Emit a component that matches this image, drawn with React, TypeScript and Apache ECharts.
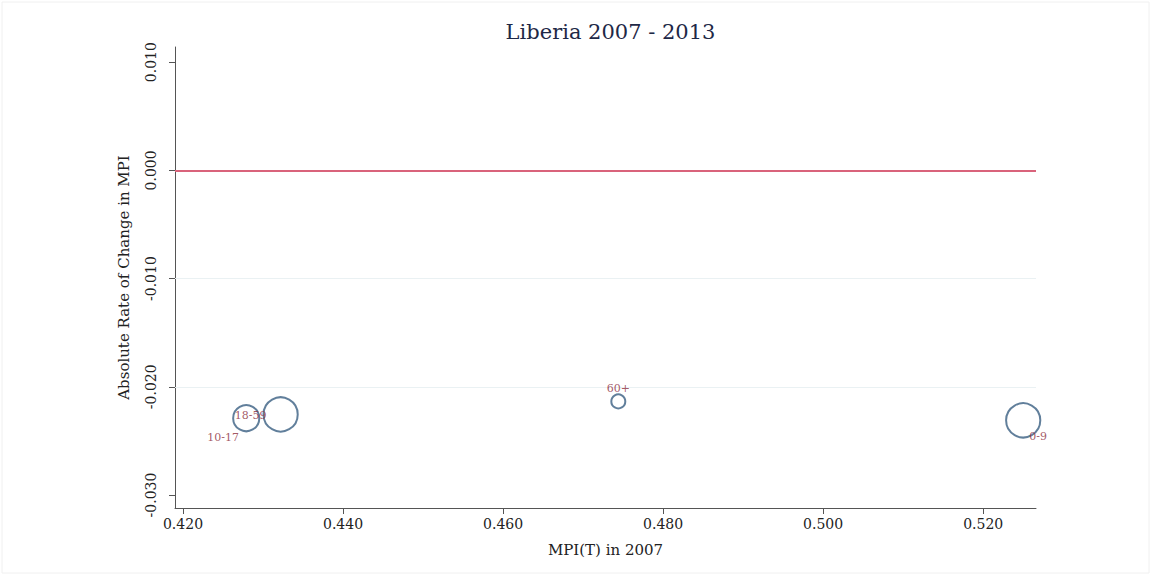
import React, { useEffect, useRef } from "react";
import * as echarts from "echarts";

const groups = ["10-17", "18-59", "60+", "0-9"];
const mpi2007 = [0.4279, 0.4322, 0.4744, 0.5250];
const absChange = [-0.0229, -0.02255, -0.02135, -0.0231];
const popShare = [0.21, 0.36, 0.06, 0.36];
const xTicks = [0.42, 0.44, 0.46, 0.48, 0.5, 0.52];
const yTicks = [-0.03, -0.02, -0.01, 0.0, 0.01];
const labelOffsets = [[-23, 19], [-30, 1], [0, -13], [15, 16]];

const SERIF = "'DejaVu Serif', 'Liberation Serif', serif";

export default function App() {
  const ref = useRef<HTMLDivElement>(null);
  useEffect(() => {
    const chart = echarts.init(ref.current!, null, { renderer: "svg" });
    const data = groups.map((g, i) => ({
      name: g,
      value: [mpi2007[i], absChange[i], popShare[i]],
      label: { offset: labelOffsets[i] },
    }));
    const interior = yTicks.slice(1, yTicks.length - 1);
    chart.setOption({
      animation: false,
      backgroundColor: "#ffffff",
      graphic: [
        {
          type: "rect",
          shape: { x: 2, y: 2, width: 1147, height: 571 },
          style: { fill: "none", stroke: "#f0f0f0", lineWidth: 1 },
          silent: true,
        },
      ],
      title: {
        text: "Liberia 2007 - 2013",
        left: 605.5,
        textAlign: "center",
        top: 16,
        textStyle: { fontFamily: SERIF, fontSize: 21, fontWeight: "normal", color: "#1e2846" },
      },
      grid: { left: 175, right: 115, top: 47, bottom: 67, containLabel: false },
      xAxis: {
        type: "value",
        min: 0.419,
        max: 0.5266,
        name: "MPI(T) in 2007",
        nameLocation: "middle",
        nameGap: 34,
        nameTextStyle: { fontFamily: SERIF, fontSize: 15, color: "#222" },
        axisLine: { show: true, onZero: false, lineStyle: { color: "#555", width: 1 } },
        axisTick: { show: true, length: 6, lineStyle: { color: "#555" }, customValues: xTicks },
        axisLabel: {
          customValues: xTicks,
          formatter: (v: number) => v.toFixed(3),
          fontFamily: SERIF,
          fontSize: 14,
          color: "#222",
          margin: 9,
        },
        splitLine: { show: false },
      },
      yAxis: {
        type: "value",
        min: -0.0312,
        max: 0.0114,
        name: "Absolute Rate of Change in MPI",
        nameLocation: "middle",
        nameRotate: 90,
        nameGap: 44,
        nameTextStyle: { fontFamily: SERIF, fontSize: 15, color: "#222" },
        axisLine: { show: true, onZero: false, lineStyle: { color: "#555", width: 1 } },
        axisTick: { show: true, length: 6, lineStyle: { color: "#555" }, customValues: yTicks },
        axisLabel: {
          customValues: yTicks,
          formatter: (v: number) => v.toFixed(3),
          rotate: 90,
          fontFamily: SERIF,
          fontSize: 14,
          color: "#222",
          margin: 17,
        },
        splitLine: { show: false },
      },
      series: [
        {
          type: "scatter",
          data,
          symbol: "circle",
          symbolSize: (v: number[]) => 57 * Math.sqrt(v[2]),
          itemStyle: { color: "rgba(0,0,0,0)", borderColor: "#3a5f82", borderWidth: 2 },
          label: {
            show: true,
            position: "inside",
            formatter: "{b}",
            fontFamily: SERIF,
            fontSize: 11,
            color: "#8c2e3c",
          },
          markLine: {
            silent: true,
            symbol: "none",
            label: { show: false },
            data: interior.map((t) => ({
              yAxis: t,
              lineStyle: t === 0
                ? { color: "#d9637b", width: 2, type: "solid" }
                : { color: "#eaf1f3", width: 1, type: "solid" },
            })),
            z: 1,
          },
          z: 3,
        },
      ],
    });
    return () => chart.dispose();
  }, []);
  return (
    <div
      ref={ref}
      style={{ position: "fixed", left: 0, top: 0, width: 1151, height: 575 }}
    />
  );
}
